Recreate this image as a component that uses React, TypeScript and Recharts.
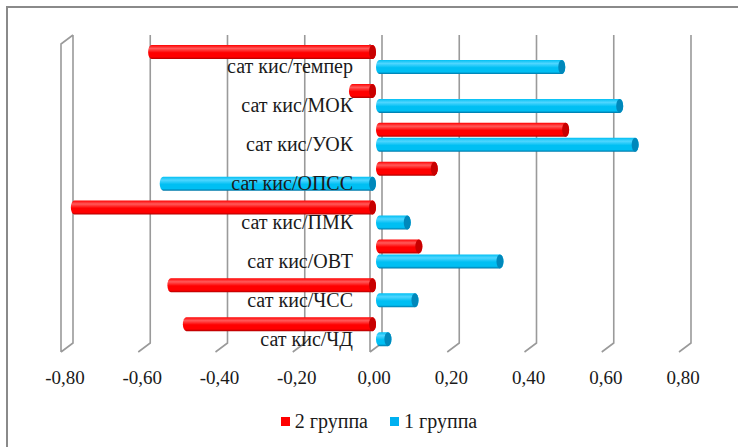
import React from "react";
import { Bar, BarChart, CartesianGrid, XAxis, YAxis } from "recharts";

const categories = [
  "сат кис/темпер",
  "сат кис/МОК",
  "сат кис/УОК",
  "сат кис/ОПСС",
  "сат кис/ПМК",
  "сат кис/ОВТ",
  "сат кис/ЧСС",
  "сат кис/ЧД",
];
const group2 = [-0.59, -0.07, 0.5, 0.16, -0.79, 0.12, -0.54, -0.5];
const group1 = [0.49, 0.64, 0.68, -0.56, 0.09, 0.33, 0.11, 0.04];
const xTicks = [-0.8, -0.6, -0.4, -0.2, 0, 0.2, 0.4, 0.6, 0.8];
const seriesNames = ["2 группа", "1 группа"];

const data = categories.map((name, i) => ({ name, g2: group2[i], g1: group1[i] }));

const FONT = "Liberation Serif";
const GRID = "#9a9a9a";
const DEPTH = 6;
const ZERO_X = 376;

const palettes: Record<string, { light: string; base: string; dark: string; cap: string }> = {
  red: { light: "#ff5a5a", base: "#ff0000", dark: "#b00000", cap: "#c80000" },
  blue: { light: "#4fd6ff", base: "#00bff3", dark: "#0077a8", cap: "#0088bb" },
};
const legendColors = ["#ff0000", "#00b0f0"];

// cylinder-like bar: rounded far end, darker elliptic cap on the right
function Cylinder(props: any) {
  const { x, y, width, height, tone } = props;
  if (width == null || height == null) return null;
  const p = palettes[tone];
  const left = Math.min(x, x + width);
  const right = Math.max(x, x + width);
  const r = 3.5;
  const h = height;
  const id = `cyl-${tone}`;
  const body = `M${left + r},${y} L${right - r},${y} A${r},${h / 2} 0 0 1 ${right - r},${y + h} L${left + r},${y + h} A${r},${h / 2} 0 0 1 ${left + r},${y} Z`;
  return (
    <g>
      <defs>
        <linearGradient id={id} x1="0" y1="0" x2="0" y2="1">
          <stop offset="0%" stopColor={p.base} />
          <stop offset="25%" stopColor={p.light} />
          <stop offset="55%" stopColor={p.base} />
          <stop offset="85%" stopColor={p.base} />
          <stop offset="100%" stopColor={p.dark} />
        </linearGradient>
      </defs>
      <path d={body} fill={`url(#${id})`} />
      <ellipse cx={right - r} cy={y + h / 2} rx={r} ry={h / 2} fill={p.cap} />
    </g>
  );
}

// back-wall gridline with a floor diagonal; the first one also closes the side wall
function GridLine(p: any) {
  const { x1, y1, y2, index } = p;
  const back = x1 + DEPTH;
  const front = x1 - DEPTH;
  const top = y1 - 5;
  const floorBack = y2 - 8;
  const floorFront = y2 + 1;
  let d = `M${back},${top} L${back},${floorBack} L${front},${floorFront}`;
  if (index === 0) d += ` M${front},${floorFront} L${front},${top + 9} L${back},${top}`;
  if (index === 4) d += ` M${front},${top + 9} L${front},${floorFront}`;
  return <path key={p.key} d={d} fill="none" stroke={GRID} strokeWidth={1.6} />;
}

function XTick(props: any) {
  const { x, y, payload } = props;
  const label = payload.value.toFixed(2).replace(".", ",");
  return (
    <text x={x - 2} y={y + 25} textAnchor="middle" style={{ fontFamily: FONT, fontSize: 19 }} fill="#1a1a1a">
      {label}
    </text>
  );
}

function YTick(props: any) {
  const { y, payload } = props;
  return (
    <text x={ZERO_X - 23} y={y + 14} textAnchor="end" style={{ fontFamily: FONT, fontSize: 20 }} fill="#1a1a1a">
      {payload.value}
    </text>
  );
}

export default function App() {
  return (
    <div style={{ position: "absolute", left: 0, top: 0, width: 738, height: 447, overflow: "hidden", background: "#fff" }}>
      <div
        style={{
          position: "absolute",
          left: 6,
          top: 6,
          width: 760,
          height: 460,
          borderTop: "2px solid #8a8a8a",
          borderLeft: "2px solid #8a8a8a",
        }}
      />
      <BarChart
        width={738}
        height={447}
        data={data}
        layout="vertical"
        margin={{ top: 40, right: 53, left: 66, bottom: 66 }}
        barSize={14}
        barGap={1}
      >
        <CartesianGrid horizontal={false} vertical={GridLine} />
        <XAxis
          type="number"
          domain={[-0.8, 0.8]}
          ticks={xTicks}
          axisLine={false}
          tickLine={false}
          height={30}
          tick={<XTick />}
          allowDataOverflow
        />
        <YAxis
          type="category"
          dataKey="name"
          width={1}
          axisLine={false}
          tickLine={false}
          interval={0}
          tick={<YTick />}
        />
        <Bar dataKey="g2" name={seriesNames[0]} fill="#ff0000" isAnimationActive={false} shape={<Cylinder tone="red" />} />
        <Bar dataKey="g1" name={seriesNames[1]} fill="#00b0f0" isAnimationActive={false} shape={<Cylinder tone="blue" />} />
      </BarChart>
      <div
        style={{
          position: "absolute",
          left: 10,
          top: 410,
          width: 738,
          display: "flex",
          justifyContent: "center",
          fontFamily: FONT,
          fontSize: 20,
          color: "#1a1a1a",
        }}
      >
        {seriesNames.map((n, i) => (
          <span key={n} style={{ display: "inline-flex", alignItems: "center", marginLeft: i ? 22 : 0 }}>
            <span style={{ width: 9, height: 9, background: legendColors[i], marginRight: 5, display: "inline-block" }} />
            {n}
          </span>
        ))}
      </div>
    </div>
  );
}
